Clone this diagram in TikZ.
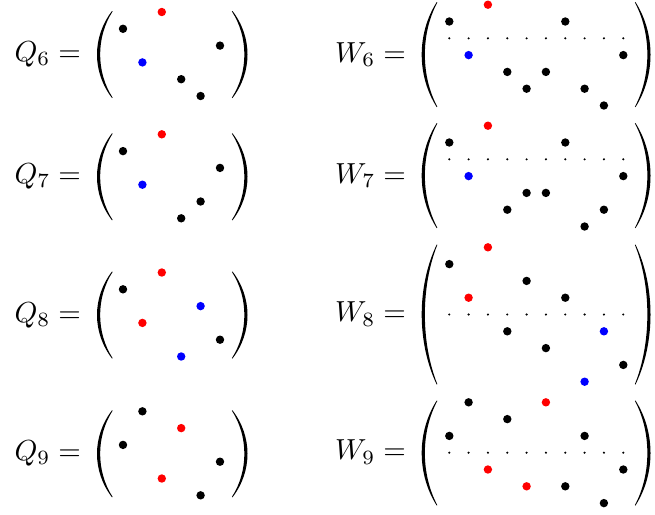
\documentclass[tikz,border=0pt]{standalone}
\usepackage{tikz}
\usetikzlibrary{positioning}

\begin{document}
\begin{tikzpicture}[x=0.345pt, y=-0.345pt,
  lbl/.style={anchor=base east, inner sep=0pt},
  par/.style={fill=black},
  bdot/.style={fill=black}, rdot/.style={fill=red}, udot/.style={fill=blue},
  sdot/.style={fill=black}]
\useasboundingbox (0,0) rectangle (655,514);
\node (q6) at (81.600000,61.250000) [lbl] {$Q_6 =$};
\node (q7) at (81.600000,183.550000) [lbl] {$Q_7 =$};
\node (q8) at (81.600000,322.050000) [lbl] {$Q_8 =$};
\node (q9) at (81.600000,460.550000) [lbl] {$Q_9 =$};
\node (w6) at (406.600000,62.350000) [lbl] {$W_6 =$};
\node (w7) at (406.600000,183.350000) [lbl] {$W_7 =$};
\node (w8) at (406.600000,321.750000) [lbl] {$W_8 =$};
\node (w9) at (406.600000,459.950000) [lbl] {$W_9 =$};
\fill [par] (112.000000,11.000000) .. controls (92.000000,37.100000) and (92.000000,71.900000) .. (112.000000,98.000000) -- (112.600000,97.600000) .. controls (96.000000,71.900000) and (96.000000,37.100000) .. (112.600000,11.400000) -- cycle;
\fill [par] (232.500000,11.000000) .. controls (252.500000,37.100000) and (252.500000,71.900000) .. (232.500000,98.000000) -- (231.900000,97.600000) .. controls (248.500000,71.900000) and (248.500000,37.100000) .. (231.900000,11.400000) -- cycle;
\fill [par] (112.000000,133.300000) .. controls (92.000000,159.400000) and (92.000000,194.200000) .. (112.000000,220.300000) -- (112.600000,219.900000) .. controls (96.000000,194.200000) and (96.000000,159.400000) .. (112.600000,133.700000) -- cycle;
\fill [par] (232.500000,133.300000) .. controls (252.500000,159.400000) and (252.500000,194.200000) .. (232.500000,220.300000) -- (231.900000,219.900000) .. controls (248.500000,194.200000) and (248.500000,159.400000) .. (231.900000,133.700000) -- cycle;
\fill [par] (112.000000,271.500000) .. controls (92.000000,297.600000) and (92.000000,332.400000) .. (112.000000,358.500000) -- (112.600000,358.100000) .. controls (96.000000,332.400000) and (96.000000,297.600000) .. (112.600000,271.900000) -- cycle;
\fill [par] (232.500000,271.500000) .. controls (252.500000,297.600000) and (252.500000,332.400000) .. (232.500000,358.500000) -- (231.900000,358.100000) .. controls (248.500000,332.400000) and (248.500000,297.600000) .. (231.900000,271.900000) -- cycle;
\fill [par] (112.000000,410.300000) .. controls (92.000000,436.400000) and (92.000000,471.200000) .. (112.000000,497.300000) -- (112.600000,496.900000) .. controls (96.000000,471.200000) and (96.000000,436.400000) .. (112.600000,410.700000) -- cycle;
\fill [par] (232.500000,410.300000) .. controls (252.500000,436.400000) and (252.500000,471.200000) .. (232.500000,497.300000) -- (231.900000,496.900000) .. controls (248.500000,471.200000) and (248.500000,436.400000) .. (231.900000,410.700000) -- cycle;
\fill [par] (436.700000,2.100000) .. controls (416.700000,33.600000) and (416.700000,75.600000) .. (436.700000,107.100000) -- (437.300000,106.700000) .. controls (420.700000,75.600000) and (420.700000,33.600000) .. (437.300000,2.500000) -- cycle;
\fill [par] (635.500000,2.100000) .. controls (655.500000,33.600000) and (655.500000,75.600000) .. (635.500000,107.100000) -- (634.900000,106.700000) .. controls (651.500000,75.600000) and (651.500000,33.600000) .. (634.900000,2.500000) -- cycle;
\fill [par] (436.700000,123.100000) .. controls (416.700000,154.600000) and (416.700000,196.600000) .. (436.700000,228.100000) -- (437.300000,227.700000) .. controls (420.700000,196.600000) and (420.700000,154.600000) .. (437.300000,123.500000) -- cycle;
\fill [par] (635.500000,123.100000) .. controls (655.500000,154.600000) and (655.500000,196.600000) .. (635.500000,228.100000) -- (634.900000,227.700000) .. controls (651.500000,196.600000) and (651.500000,154.600000) .. (634.900000,123.500000) -- cycle;
\fill [par] (436.700000,244.500000) .. controls (416.700000,286.500000) and (416.700000,342.500000) .. (436.700000,384.500000) -- (437.300000,384.100000) .. controls (420.700000,342.500000) and (420.700000,286.500000) .. (437.300000,244.900000) -- cycle;
\fill [par] (635.500000,244.500000) .. controls (655.500000,286.500000) and (655.500000,342.500000) .. (635.500000,384.500000) -- (634.900000,384.100000) .. controls (651.500000,342.500000) and (651.500000,286.500000) .. (634.900000,244.900000) -- cycle;
\fill [par] (436.700000,400.500000) .. controls (416.700000,432.000000) and (416.700000,474.000000) .. (436.700000,505.500000) -- (437.300000,505.100000) .. controls (420.700000,474.000000) and (420.700000,432.000000) .. (437.300000,400.900000) -- cycle;
\fill [par] (635.500000,400.500000) .. controls (655.500000,432.000000) and (655.500000,474.000000) .. (635.500000,505.500000) -- (634.900000,505.100000) .. controls (651.500000,474.000000) and (651.500000,432.000000) .. (634.900000,400.900000) -- cycle;
\path [rdot] (161.800000,12.000000) circle (1.450000pt);
\path [bdot] (123.000000,28.800000) circle (1.450000pt);
\path [bdot] (220.000000,45.600000) circle (1.450000pt);
\path [udot] (142.400000,62.400000) circle (1.450000pt);
\path [bdot] (181.200000,79.200000) circle (1.450000pt);
\path [bdot] (200.600000,96.000000) circle (1.450000pt);
\path [rdot] (161.800000,134.300000) circle (1.450000pt);
\path [bdot] (123.000000,151.100000) circle (1.450000pt);
\path [bdot] (220.000000,167.900000) circle (1.450000pt);
\path [udot] (142.400000,184.700000) circle (1.450000pt);
\path [bdot] (200.600000,201.500000) circle (1.450000pt);
\path [bdot] (181.200000,218.300000) circle (1.450000pt);
\path [rdot] (161.800000,272.500000) circle (1.450000pt);
\path [bdot] (123.000000,289.300000) circle (1.450000pt);
\path [udot] (200.600000,306.100000) circle (1.450000pt);
\path [rdot] (142.400000,322.900000) circle (1.450000pt);
\path [bdot] (220.000000,339.700000) circle (1.450000pt);
\path [udot] (181.200000,356.500000) circle (1.450000pt);
\path [bdot] (142.400000,411.300000) circle (1.450000pt);
\path [rdot] (181.200000,428.100000) circle (1.450000pt);
\path [bdot] (123.000000,444.900000) circle (1.450000pt);
\path [bdot] (220.000000,461.700000) circle (1.450000pt);
\path [rdot] (161.800000,478.500000) circle (1.450000pt);
\path [bdot] (200.600000,495.300000) circle (1.450000pt);
\path [rdot] (487.900000,4.700000) circle (1.450000pt);
\path [bdot] (449.300000,21.500000) circle (1.450000pt);
\path [bdot] (565.300000,21.500000) circle (1.450000pt);
\path [sdot] (449.300000,38.300000) circle (0.400000pt);
\path [sdot] (468.600000,38.300000) circle (0.400000pt);
\path [sdot] (487.900000,38.300000) circle (0.400000pt);
\path [sdot] (507.300000,38.300000) circle (0.400000pt);
\path [sdot] (526.600000,38.300000) circle (0.400000pt);
\path [sdot] (545.900000,38.300000) circle (0.400000pt);
\path [sdot] (565.300000,38.300000) circle (0.400000pt);
\path [sdot] (584.600000,38.300000) circle (0.400000pt);
\path [sdot] (603.900000,38.300000) circle (0.400000pt);
\path [sdot] (623.300000,38.300000) circle (0.400000pt);
\path [udot] (468.600000,55.100000) circle (1.450000pt);
\path [bdot] (623.300000,55.100000) circle (1.450000pt);
\path [bdot] (507.300000,71.900000) circle (1.450000pt);
\path [bdot] (545.900000,71.900000) circle (1.450000pt);
\path [bdot] (526.600000,88.700000) circle (1.450000pt);
\path [bdot] (584.600000,88.700000) circle (1.450000pt);
\path [bdot] (603.900000,105.500000) circle (1.450000pt);
\path [rdot] (487.900000,125.700000) circle (1.450000pt);
\path [bdot] (449.300000,142.500000) circle (1.450000pt);
\path [bdot] (565.300000,142.500000) circle (1.450000pt);
\path [sdot] (449.300000,159.300000) circle (0.400000pt);
\path [sdot] (468.600000,159.300000) circle (0.400000pt);
\path [sdot] (487.900000,159.300000) circle (0.400000pt);
\path [sdot] (507.300000,159.300000) circle (0.400000pt);
\path [sdot] (526.600000,159.300000) circle (0.400000pt);
\path [sdot] (545.900000,159.300000) circle (0.400000pt);
\path [sdot] (565.300000,159.300000) circle (0.400000pt);
\path [sdot] (584.600000,159.300000) circle (0.400000pt);
\path [sdot] (603.900000,159.300000) circle (0.400000pt);
\path [sdot] (623.300000,159.300000) circle (0.400000pt);
\path [udot] (468.600000,176.100000) circle (1.450000pt);
\path [bdot] (623.300000,176.100000) circle (1.450000pt);
\path [bdot] (526.600000,192.900000) circle (1.450000pt);
\path [bdot] (545.900000,192.900000) circle (1.450000pt);
\path [bdot] (507.300000,209.700000) circle (1.450000pt);
\path [bdot] (603.900000,209.700000) circle (1.450000pt);
\path [bdot] (584.600000,226.500000) circle (1.450000pt);
\path [rdot] (487.900000,247.300000) circle (1.450000pt);
\path [bdot] (449.300000,264.100000) circle (1.450000pt);
\path [bdot] (526.600000,280.900000) circle (1.450000pt);
\path [rdot] (468.600000,297.700000) circle (1.450000pt);
\path [bdot] (565.300000,297.700000) circle (1.450000pt);
\path [sdot] (449.300000,314.500000) circle (0.400000pt);
\path [sdot] (468.600000,314.500000) circle (0.400000pt);
\path [sdot] (487.900000,314.500000) circle (0.400000pt);
\path [sdot] (507.300000,314.500000) circle (0.400000pt);
\path [sdot] (526.600000,314.500000) circle (0.400000pt);
\path [sdot] (545.900000,314.500000) circle (0.400000pt);
\path [sdot] (565.300000,314.500000) circle (0.400000pt);
\path [sdot] (584.600000,314.500000) circle (0.400000pt);
\path [sdot] (603.900000,314.500000) circle (0.400000pt);
\path [sdot] (623.300000,314.500000) circle (0.400000pt);
\path [bdot] (507.300000,331.300000) circle (1.450000pt);
\path [udot] (603.900000,331.300000) circle (1.450000pt);
\path [bdot] (545.900000,348.100000) circle (1.450000pt);
\path [bdot] (623.300000,364.900000) circle (1.450000pt);
\path [udot] (584.600000,381.700000) circle (1.450000pt);
\path [bdot] (468.600000,402.300000) circle (1.450000pt);
\path [rdot] (545.900000,402.300000) circle (1.450000pt);
\path [bdot] (507.300000,419.100000) circle (1.450000pt);
\path [bdot] (449.300000,435.900000) circle (1.450000pt);
\path [bdot] (584.600000,435.900000) circle (1.450000pt);
\path [sdot] (449.300000,452.700000) circle (0.400000pt);
\path [sdot] (468.600000,452.700000) circle (0.400000pt);
\path [sdot] (487.900000,452.700000) circle (0.400000pt);
\path [sdot] (507.300000,452.700000) circle (0.400000pt);
\path [sdot] (526.600000,452.700000) circle (0.400000pt);
\path [sdot] (545.900000,452.700000) circle (0.400000pt);
\path [sdot] (565.300000,452.700000) circle (0.400000pt);
\path [sdot] (584.600000,452.700000) circle (0.400000pt);
\path [sdot] (603.900000,452.700000) circle (0.400000pt);
\path [sdot] (623.300000,452.700000) circle (0.400000pt);
\path [rdot] (487.900000,469.500000) circle (1.450000pt);
\path [bdot] (623.300000,469.500000) circle (1.450000pt);
\path [rdot] (526.600000,486.300000) circle (1.450000pt);
\path [bdot] (565.300000,486.300000) circle (1.450000pt);
\path [bdot] (603.900000,503.100000) circle (1.450000pt);
\end{tikzpicture}
\end{document}
